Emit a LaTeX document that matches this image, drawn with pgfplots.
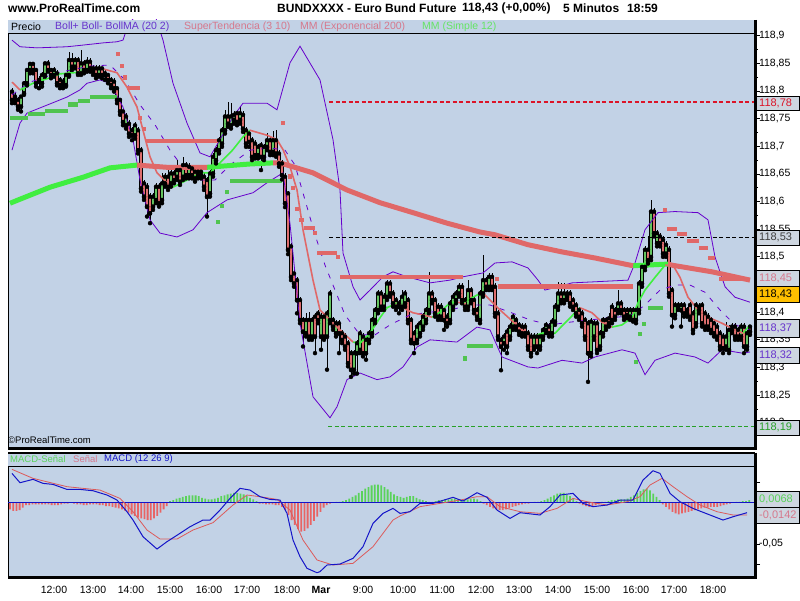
\documentclass[border=0pt]{standalone}
\usepackage{pgfplots}
\pgfplotsset{compat=1.18}
\usepackage{pgfplotstable}
\usepackage{fontspec}
\setmainfont{Liberation Sans}

\definecolor{bg}{RGB}{194,210,230}
\definecolor{cgreen}{RGB}{100,196,96}
\definecolor{cred}{RGB}{222,110,110}
\definecolor{boll}{RGB}{102,0,204}
\definecolor{salmon}{RGB}{224,104,104}
\definecolor{stgreen}{RGB}{80,196,80}
\definecolor{emagreen}{RGB}{64,238,64}
\definecolor{smagreen}{RGB}{64,240,64}
\definecolor{macdblue}{RGB}{20,20,200}
\definecolor{sigred}{RGB}{220,90,90}
\definecolor{hgreen}{RGB}{90,210,90}
\definecolor{hred}{RGB}{232,100,100}
\definecolor{boxfill}{RGB}{206,214,224}
\definecolor{orangebox}{RGB}{255,192,0}
\definecolor{legpink}{RGB}{214,120,140}
\definecolor{leggreen}{RGB}{100,228,100}
\definecolor{legpurple}{RGB}{102,51,204}
\definecolor{dashred}{RGB}{220,20,40}
\definecolor{dashgreen}{RGB}{40,160,40}

\newcommand{\pricebox}[5]{%
  \draw[black, line width=0.6pt, fill=#5] (756.5pt,{600pt-#1pt}) rectangle (799.5pt,{600pt-#2pt});
  \node[anchor=west, text=#4, font=\fontsize{11}{12}\selectfont, inner sep=0pt] at (759pt,{600pt-(#1pt+#2pt)/2}) {#3};}

\pgfplotstableread{
x o h l c
12 118.799 118.805 118.778 118.784
15 118.790 118.796 118.778 118.784
18 118.784 118.790 118.766 118.772
21 118.772 118.793 118.763 118.790
24 118.796 118.818 118.793 118.814
27 118.814 118.842 118.810 118.838
30 118.838 118.853 118.832 118.849
33 118.849 118.853 118.832 118.838
36 118.838 118.842 118.808 118.814
39 118.817 118.828 118.805 118.820
42 118.814 118.835 118.808 118.829
45 118.829 118.853 118.826 118.850
48 118.850 118.856 118.835 118.838
51 118.838 118.842 118.823 118.829
54 118.829 118.844 118.826 118.838
57 118.832 118.838 118.810 118.814
60 118.820 118.826 118.805 118.811
63 118.817 118.823 118.805 118.811
66 118.811 118.832 118.808 118.829
69 118.829 118.871 118.826 118.856
72 118.856 118.868 118.838 118.844
75 118.844 118.862 118.841 118.856
78 118.856 118.862 118.829 118.832
81 118.832 118.874 118.829 118.850
84 118.850 118.856 118.832 118.838
87 118.838 118.862 118.835 118.853
90 118.853 118.859 118.835 118.841
93 118.841 118.847 118.829 118.835
96 118.841 118.847 118.823 118.829
99 118.829 118.847 118.826 118.841
102 118.841 118.844 118.823 118.829
105 118.832 118.838 118.820 118.829
108 118.829 118.832 118.814 118.820
111 118.820 118.826 118.805 118.811
114 118.817 118.823 118.799 118.805
117 118.805 118.808 118.778 118.784
120 118.784 118.787 118.757 118.763
123 118.763 118.766 118.738 118.744
126 118.738 118.760 118.732 118.754
129 118.741 118.747 118.717 118.723
132 118.729 118.735 118.711 118.720
135 118.720 118.744 118.714 118.738
138 118.729 118.735 118.687 118.693
141 118.693 118.699 118.618 118.624
144 118.633 118.639 118.603 118.609
147 118.627 118.633 118.573 118.591
150 118.609 118.615 118.561 118.579
153 118.591 118.615 118.585 118.609
156 118.603 118.633 118.597 118.627
159 118.627 118.633 118.591 118.597
162 118.603 118.651 118.597 118.633
165 118.633 118.651 118.627 118.645
168 118.645 118.657 118.621 118.627
171 118.633 118.657 118.627 118.651
174 118.651 118.657 118.633 118.639
177 118.645 118.675 118.639 118.657
180 118.657 118.663 118.630 118.636
183 118.645 118.681 118.639 118.666
186 118.666 118.672 118.642 118.648
189 118.648 118.669 118.642 118.663
192 118.660 118.666 118.642 118.648
195 118.654 118.660 118.636 118.642
198 118.648 118.660 118.642 118.654
201 118.654 118.660 118.642 118.648
204 118.645 118.651 118.621 118.627
207 118.639 118.645 118.573 118.609
210 118.615 118.657 118.609 118.651
213 118.651 118.687 118.645 118.681
216 118.675 118.699 118.669 118.693
219 118.693 118.717 118.687 118.711
222 118.705 118.735 118.699 118.729
225 118.729 118.766 118.723 118.754
228 118.754 118.781 118.735 118.741
231 118.738 118.778 118.732 118.754
234 118.748 118.763 118.741 118.757
237 118.760 118.766 118.738 118.744
240 118.748 118.772 118.741 118.760
243 118.757 118.763 118.726 118.732
246 118.729 118.735 118.699 118.705
249 118.723 118.729 118.699 118.708
252 118.711 118.717 118.675 118.681
255 118.705 118.711 118.678 118.684
258 118.684 118.705 118.678 118.699
261 118.702 118.708 118.657 118.681
264 118.681 118.705 118.675 118.699
267 118.699 118.724 118.693 118.711
270 118.711 118.717 118.684 118.690
273 118.690 118.727 118.684 118.711
276 118.711 118.730 118.681 118.687
279 118.687 118.693 118.663 118.669
282 118.669 118.675 118.640 118.648
285 118.645 118.651 118.590 118.597
288 118.615 118.620 118.505 118.513
291 118.519 118.525 118.458 118.464
294 118.470 118.476 118.446 118.452
297 118.458 118.464 118.398 118.422
300 118.422 118.428 118.380 118.386
303 118.386 118.392 118.338 118.365
306 118.362 118.398 118.356 118.386
309 118.386 118.401 118.350 118.356
312 118.356 118.392 118.350 118.386
315 118.392 118.398 118.326 118.356
318 118.398 118.404 118.380 118.386
321 118.356 118.398 118.332 118.392
324 118.392 118.398 118.350 118.356
327 118.356 118.404 118.296 118.398
330 118.386 118.440 118.380 118.434
333 118.386 118.392 118.368 118.374
336 118.362 118.386 118.356 118.380
339 118.380 118.386 118.326 118.362
342 118.362 118.368 118.344 118.350
345 118.356 118.362 118.332 118.338
348 118.344 118.350 118.302 118.308
351 118.326 118.332 118.283 118.296
354 118.296 118.332 118.289 118.326
357 118.326 118.350 118.289 118.344
360 118.332 118.368 118.326 118.362
363 118.356 118.362 118.320 118.326
366 118.326 118.356 118.314 118.350
369 118.350 118.368 118.344 118.362
372 118.362 118.392 118.356 118.386
375 118.386 118.410 118.380 118.404
378 118.404 118.440 118.398 118.434
381 118.434 118.440 118.404 118.410
384 118.410 118.434 118.404 118.428
387 118.428 118.458 118.422 118.452
390 118.452 118.458 118.428 118.434
393 118.434 118.440 118.410 118.416
396 118.422 118.428 118.404 118.410
399 118.410 118.422 118.398 118.416
402 118.410 118.440 118.404 118.428
405 118.416 118.440 118.410 118.434
408 118.422 118.428 118.380 118.386
411 118.386 118.392 118.344 118.350
414 118.362 118.368 118.326 118.344
417 118.350 118.380 118.344 118.374
420 118.362 118.386 118.356 118.380
423 118.374 118.398 118.368 118.392
426 118.386 118.410 118.380 118.404
429 118.404 118.473 118.398 118.434
432 118.434 118.440 118.416 118.422
435 118.422 118.428 118.392 118.398
438 118.410 118.416 118.386 118.392
441 118.392 118.416 118.386 118.410
444 118.404 118.410 118.368 118.386
447 118.392 118.398 118.374 118.380
450 118.386 118.422 118.380 118.416
453 118.410 118.434 118.404 118.428
456 118.422 118.440 118.416 118.434
459 118.434 118.452 118.428 118.446
462 118.446 118.452 118.416 118.422
465 118.422 118.428 118.404 118.410
468 118.410 118.458 118.404 118.440
471 118.440 118.446 118.416 118.422
474 118.422 118.428 118.398 118.404
477 118.404 118.410 118.386 118.392
480 118.386 118.440 118.380 118.434
483 118.434 118.503 118.428 118.458
486 118.458 118.464 118.440 118.446
489 118.446 118.470 118.440 118.464
492 118.464 118.470 118.440 118.446
495 118.446 118.452 118.392 118.398
498 118.398 118.404 118.350 118.356
501 118.350 118.356 118.295 118.338
504 118.344 118.362 118.332 118.356
507 118.365 118.371 118.326 118.338
510 118.356 118.380 118.350 118.374
513 118.374 118.398 118.368 118.392
516 118.386 118.392 118.368 118.374
519 118.377 118.383 118.359 118.365
522 118.374 118.380 118.356 118.362
525 118.374 118.380 118.356 118.362
528 118.362 118.368 118.332 118.338
531 118.356 118.362 118.320 118.326
534 118.338 118.362 118.332 118.356
537 118.356 118.362 118.326 118.338
540 118.338 118.362 118.332 118.356
543 118.356 118.374 118.350 118.368
546 118.368 118.383 118.362 118.377
549 118.374 118.380 118.356 118.362
552 118.362 118.389 118.356 118.383
555 118.383 118.416 118.377 118.410
558 118.410 118.455 118.404 118.434
561 118.434 118.452 118.416 118.422
564 118.422 118.452 118.416 118.434
567 118.434 118.440 118.422 118.428
570 118.434 118.440 118.410 118.416
573 118.422 118.428 118.404 118.410
576 118.413 118.419 118.392 118.398
579 118.404 118.410 118.386 118.392
582 118.398 118.404 118.374 118.380
585 118.386 118.392 118.350 118.356
588 118.380 118.386 118.274 118.326
591 118.326 118.389 118.320 118.383
594 118.356 118.386 118.350 118.380
597 118.380 118.386 118.326 118.332
600 118.338 118.368 118.332 118.362
603 118.362 118.392 118.356 118.386
606 118.386 118.392 118.368 118.374
609 118.389 118.398 118.374 118.380
612 118.410 118.416 118.380 118.386
615 118.404 118.410 118.386 118.392
618 118.404 118.440 118.398 118.416
621 118.416 118.422 118.398 118.404
624 118.404 118.410 118.386 118.392
627 118.404 118.410 118.389 118.395
630 118.392 118.410 118.386 118.404
633 118.404 118.410 118.383 118.386
636 118.386 118.410 118.380 118.404
639 118.404 118.458 118.398 118.452
642 118.452 118.488 118.446 118.482
645 118.482 118.519 118.476 118.513
648 118.513 118.537 118.488 118.494
651 118.500 118.603 118.494 118.582
654 118.582 118.588 118.537 118.543
657 118.525 118.549 118.519 118.543
660 118.537 118.543 118.519 118.525
663 118.531 118.537 118.500 118.506
666 118.506 118.528 118.500 118.522
669 118.513 118.519 118.428 118.434
672 118.440 118.446 118.374 118.395
675 118.395 118.419 118.389 118.413
678 118.413 118.419 118.404 118.410
681 118.404 118.419 118.374 118.413
684 118.413 118.419 118.392 118.398
687 118.404 118.410 118.392 118.398
690 118.413 118.419 118.386 118.392
693 118.398 118.404 118.362 118.368
696 118.380 118.419 118.374 118.413
699 118.404 118.416 118.398 118.410
702 118.413 118.419 118.374 118.380
705 118.398 118.404 118.368 118.374
708 118.392 118.398 118.368 118.374
711 118.386 118.392 118.362 118.368
714 118.380 118.386 118.356 118.362
717 118.374 118.380 118.350 118.356
720 118.362 118.368 118.332 118.338
723 118.356 118.362 118.326 118.335
726 118.338 118.383 118.332 118.356
729 118.332 118.377 118.326 118.368
732 118.368 118.380 118.362 118.374
735 118.374 118.380 118.350 118.356
738 118.368 118.374 118.350 118.356
741 118.356 118.380 118.350 118.374
744 118.374 118.380 118.326 118.338
747 118.338 118.368 118.332 118.362
750 118.374 118.377 118.359 118.365
}\candles

\pgfplotstableread{
v
-0.008
-0.010
-0.010
-0.009
-0.006
-0.003
-0.003
-0.002
-0.002
-0.002
-0.002
-0.002
-0.002
-0.003
-0.003
-0.003
-0.002
-0.001
-0.001
0
-0.001
-0.002
-0.002
-0.003
-0.003
-0.002
-0.002
-0.002
-0.003
-0.003
-0.004
-0.004
-0.005
-0.006
-0.007
-0.008
-0.010
-0.012
-0.014
-0.016
-0.018
-0.019
-0.020
-0.021
-0.021
-0.019
-0.016
-0.012
-0.008
-0.004
0.002
0.003
0.005
0.006
0.007
0.008
0.009
0.009
0.009
0.008
0.006
0.005
0.004
0.004
0.005
0.006
0.008
0.009
0.010
0.011
0.012
0.012
0.011
0.010
0.008
0.006
0.004
0.002
-0.001
-0.001
-0.002
-0.002
-0.002
-0.003
-0.003
-0.005
-0.009
-0.015
-0.021
-0.027
-0.032
-0.035
-0.034
-0.031
-0.027
-0.022
-0.017
-0.011
-0.006
-0.003
-0.001
0
0.001
0.001
0.002
0.003
0.005
0.007
0.009
0.012
0.014
0.017
0.019
0.021
0.022
0.022
0.021
0.019
0.016
0.013
0.010
0.008
0.007
0.006
0.007
0.008
0.008
0.006
0.004
0.003
0.002
0.001
0.001
0.002
0.003
0.003
0.004
0.004
0.005
0.005
0.004
0.003
0.003
0.004
0.005
0.005
0.004
0.002
-0.001
-0.003
-0.005
-0.007
-0.008
-0.009
-0.009
-0.008
-0.007
-0.005
-0.004
-0.003
-0.002
-0.001
-0.001
0
0.001
0.001
0.002
0.003
0.005
0.007
0.009
0.011
0.012
0.012
0.010
0.008
0.005
0.002
-0.001
-0.003
-0.004
-0.005
-0.004
-0.003
-0.002
0.001
0.001
0.002
0.003
0.003
0.004
0.004
0.004
0.005
0.007
0.009
0.012
0.014
0.016
0.017
0.015
0.011
0.007
0.003
-0.002
-0.005
-0.008
-0.011
-0.013
-0.014
-0.013
-0.012
-0.011
-0.010
-0.009
-0.008
-0.007
-0.006
-0.006
-0.005
-0.005
-0.005
-0.004
-0.003
-0.002
-0.001
0
0.001
0.001
0.002
0.002
0.003
}\hist

\begin{document}
\begin{tikzpicture}
\path[use as bounding box, fill=white] (0,0) rectangle (800pt,600pt);

% ---------------- main price panel ----------------
\begin{axis}[
  at={(8pt,152pt)}, anchor=south west, scale only axis,
  width=747pt, height=428pt,
  xmin=8, xmax=755, ymin=118.1544, ymax=118.9284,
  axis background/.style={fill=bg},
  axis line style={line width=0.8pt},
  xtick=\empty,
  ytick pos=right, yticklabel pos=right,
  ytick={118.2,118.25,118.3,118.35,118.4,118.45,118.5,118.55,118.6,118.65,118.7,118.75,118.8,118.85,118.9},
  minor y tick num=1,
  tick align=outside, major tick length=5pt, minor tick length=3pt,
  tick style={black, line width=0.8pt},
  yticklabel style={font=\fontsize{10.5}{12}\selectfont, xshift=-4.5pt},
  scaled y ticks=false,
  /pgf/number format/fixed, /pgf/number format/precision=2,
  /pgf/number format/use comma, /pgf/number format/assume math mode=true,
  unbounded coords=jump,
]
% wicks
\addplot[only marks, mark=none, error bars/.cd, y dir=plus, y explicit, error mark=none,
  error bar style={black, line width=0.7pt}]
  table[x=x, y=l, y error expr={\thisrow{h}-\thisrow{l}}] {\candles};
% body outline
\addplot[only marks, mark=none, error bars/.cd, y dir=plus, y explicit, error mark=none,
  error bar style={black, line width=3.2pt}]
  table[x=x, y expr={min(\thisrow{o},\thisrow{c})-0.0008}, y error expr={abs(\thisrow{c}-\thisrow{o})+0.0016}] {\candles};
% green bodies
\addplot[only marks, mark=none, error bars/.cd, y dir=plus, y explicit, error mark=none,
  error bar style={cgreen, line width=1.9pt}]
  table[x=x, y=o, y error expr={max(\thisrow{c}-\thisrow{o},0)}] {\candles};
% red bodies
\addplot[only marks, mark=none, error bars/.cd, y dir=plus, y explicit, error mark=none,
  error bar style={cred, line width=1.9pt}]
  table[x=x, y=c, y error expr={max(\thisrow{o}-\thisrow{c},0)}] {\candles};

% Bollinger
\addplot[boll, line width=0.8pt] coordinates {(12,118.892)(20,118.880)(37,118.878)(67,118.880)(83,118.883)(103,118.887)(117,118.889)(123,118.892)(128,118.919)(140,118.946)(155,118.937)(163,118.892)(173,118.814)(187,118.742)(200,118.688)(210,118.681)(233,118.753)(243,118.778)(267,118.778)(277,118.766)(290,118.851)(300,118.881)(320,118.820)(333,118.712)(340,118.621)(343,118.507)(353,118.446)(360,118.422)(370,118.440)(383,118.464)(393,118.473)(407,118.464)(430,118.453)(450,118.458)(463,118.464)(483,118.471)(495,118.489)(512,118.491)(528,118.480)(538,118.458)(545,118.440)(558,118.446)(572,118.453)(595,118.455)(628,118.458)(635,118.489)(645,118.549)(658,118.580)(675,118.582)(698,118.580)(708,118.567)(715,118.500)(725,118.446)(735,118.427)(750,118.418)};
\addplot[boll, line width=0.8pt] coordinates {(12,118.693)(20,118.742)(27,118.760)(67,118.789)(80,118.802)(87,118.814)(100,118.820)(110,118.814)(123,118.771)(133,118.712)(140,118.639)(150,118.567)(160,118.543)(177,118.536)(193,118.549)(207,118.580)(227,118.603)(253,118.616)(267,118.634)(283,118.652)(290,118.560)(300,118.380)(313,118.247)(330,118.209)(337,118.229)(347,118.278)(360,118.290)(377,118.278)(390,118.283)(403,118.301)(417,118.337)(430,118.350)(457,118.346)(477,118.373)(490,118.368)(502,118.319)(528,118.301)(538,118.299)(562,118.313)(582,118.308)(595,118.319)(622,118.332)(635,118.326)(645,118.287)(655,118.313)(675,118.326)(695,118.319)(708,118.308)(722,118.332)(742,118.326)(750,118.328)};
\addplot[boll, line width=0.8pt, dash pattern=on 5pt off 7pt] coordinates {(12,118.793)(30,118.816)(60,118.834)(90,118.845)(110,118.847)(125,118.820)(140,118.775)(155,118.739)(170,118.693)(185,118.657)(200,118.639)(215,118.639)(230,118.666)(250,118.693)(270,118.697)(285,118.693)(295,118.666)(305,118.603)(315,118.540)(325,118.485)(335,118.440)(345,118.395)(360,118.359)(375,118.359)(390,118.377)(410,118.395)(430,118.400)(450,118.404)(470,118.413)(490,118.413)(510,118.400)(530,118.386)(550,118.377)(570,118.382)(590,118.386)(610,118.390)(630,118.393)(645,118.413)(660,118.440)(675,118.449)(690,118.449)(705,118.436)(720,118.404)(735,118.377)(750,118.368)};

% EMA 200
\addplot[emagreen, line width=5pt] coordinates {(10,118.597)(50,118.626)(83,118.644)(110,118.661)(137,118.666)(137,nan)(207,118.662)(250,118.668)(273,118.670)(273,nan)(633,118.484)(668,118.487)};
\addplot[salmon, line width=5pt] coordinates {(137,118.666)(167,118.662)(207,118.662)(207,nan)(273,118.670)(280,118.670)(313,118.652)(347,118.621)(380,118.598)(413,118.580)(447,118.561)(480,118.545)(495,118.540)(528,118.522)(562,118.509)(595,118.498)(633,118.484)(633,nan)(668,118.487)(672,118.485)(712,118.473)(750,118.458)};

% SMA 12
\addplot[smagreen, line width=1.6pt] coordinates {(20,118.802)(33,118.814)(50,118.824)(60,118.831)(80,118.834)(97,118.840)(97,nan)(173,118.626)(187,118.639)(200,118.652)(210,118.652)(220,118.670)(233,118.694)(243,118.717)(250,118.729)(250,nan)(353,118.346)(360,118.344)(370,118.362)(380,118.390)(387,118.408)(397,118.417)(397,nan)(432,118.391)(440,118.400)(450,118.417)(457,118.418)(457,nan)(463,118.417)(477,118.431)(483,118.435)(483,nan)(532,118.355)(542,118.362)(555,118.362)(568,118.386)(580,118.408)(580,nan)(612,118.373)(622,118.377)(632,118.390)(638,118.417)(645,118.440)(655,118.463)(665,118.485)(665,nan)(743,118.362)(750,118.377)};
\addplot[salmon, line width=1.6pt] coordinates {(12,118.816)(20,118.802)(20,nan)(97,118.840)(103,118.840)(117,118.833)(127,118.807)(137,118.771)(143,118.729)(150,118.681)(157,118.652)(167,118.634)(173,118.626)(173,nan)(250,118.729)(267,118.720)(277,118.712)(283,118.694)(290,118.663)(297,118.621)(303,118.549)(313,118.458)(320,118.404)(330,118.386)(340,118.368)(353,118.346)(353,nan)(397,118.417)(407,118.404)(413,118.399)(423,118.395)(432,118.391)(432,nan)(457,118.418)(463,118.417)(463,nan)(483,118.435)(490,118.422)(500,118.404)(508,118.391)(522,118.368)(532,118.355)(532,nan)(580,118.408)(592,118.399)(602,118.382)(612,118.373)(612,nan)(665,118.485)(673,118.485)(680,118.463)(688,118.427)(698,118.404)(708,118.391)(722,118.380)(735,118.368)(743,118.362)};

% SuperTendencia
\addplot[salmon, line width=4.5pt] coordinates {(116,118.867)(120,118.867)(120,nan)(120,118.845)(124,118.845)(124,nan)(123,118.824)(127,118.824)(127,nan)(127,118.805)(140,118.805)(140,nan)(138,118.751)(142,118.751)(142,nan)(142,118.731)(146,118.731)(146,nan)(146,118.710)(218,118.710)(218,nan)(281,118.742)(285,118.742)(285,nan)(288,118.645)(292,118.645)(292,nan)(291,118.625)(295,118.625)(295,nan)(295,118.587)(299,118.587)(299,nan)(299,118.567)(304,118.567)(304,nan)(304,118.552)(315,118.552)(315,nan)(313,118.543)(317,118.543)(317,nan)(317,118.507)(337,118.507)(337,nan)(336,118.500)(340,118.500)(340,nan)(340,118.464)(463,118.464)(463,nan)(495,118.460)(499,118.460)(499,nan)(498,118.446)(633,118.446)(633,nan)(663,118.585)(667,118.585)(667,nan)(667,118.550)(677,118.550)(677,nan)(677,118.541)(687,118.541)(687,nan)(687,118.529)(699,118.529)(699,nan)(699,118.516)(708,118.516)(708,nan)(708,118.498)(715,118.498)(715,nan)(719,118.460)(748,118.460)};
\addplot[stgreen, line width=4.5pt] coordinates {(10,118.751)(28,118.751)(28,nan)(28,118.758)(45,118.758)(45,nan)(45,118.764)(68,118.764)(68,nan)(68,118.776)(78,118.776)(78,nan)(78,118.782)(90,118.782)(90,nan)(90,118.789)(117,118.789)(117,nan)(216,118.563)(220,118.563)(220,nan)(220,118.592)(224,118.592)(224,nan)(225,118.617)(229,118.617)(229,nan)(230,118.637)(282,118.637)(282,nan)(463,118.316)(467,118.316)(467,nan)(467,118.339)(493,118.339)(493,nan)(634,118.310)(638,118.310)(638,nan)(638,118.361)(642,118.361)(642,nan)(642,118.379)(646,118.379)(646,nan)(648,118.408)(663,118.408)};

% horizontal levels
\addplot[dashred, line width=1.6pt, dash pattern=on 4pt off 2.5pt] coordinates {(329,118.78)(755,118.78)};
\addplot[black, line width=1.6pt, dash pattern=on 4pt off 2.5pt] coordinates {(329,118.535)(755,118.535)};
\addplot[dashgreen, line width=1.6pt, dash pattern=on 4pt off 2.5pt] coordinates {(328,118.193)(755,118.193)};
\end{axis}

% ---------------- MACD panel ----------------
\begin{axis}[
  at={(8pt,23pt)}, anchor=south west, scale only axis,
  width=747pt, height=124pt,
  xmin=8, xmax=755, ymin=-0.0900, ymax=0.0602,
  axis background/.style={fill=bg},
  axis line style={line width=0.8pt},
  ytick pos=right, yticklabel pos=right,
  ytick={-0.075,-0.05,-0.025,0.025},
  yticklabels={,{-0,05},,},
  scaled y ticks=false,
  tick align=outside, major tick length=5pt,
  tick style={black, line width=0.8pt},
  yticklabel style={font=\fontsize{10.5}{12}\selectfont, xshift=-4.5pt},
  xtick pos=bottom,
  xtick={54,93,131,170,209,247,287,321,363,403,442,481,519,558,597,636,674,713},
  xticklabels={12:00,13:00,14:00,15:00,16:00,17:00,18:00,\textbf{Mar},9:00,10:00,11:00,12:00,13:00,14:00,15:00,16:00,17:00,18:00},
  major x tick style={draw=none},
  xticklabel style={font=\fontsize{10.5}{12}\selectfont, yshift=-1pt},
  unbounded coords=jump,
]
\addplot[ybar, bar width=1.8pt, bar shift=0pt, fill=hgreen, draw=none, restrict y to domain=0:1]
  table[x expr=10+3.2*\coordindex, y=v] {\hist};
\addplot[ybar, bar width=1.8pt, bar shift=0pt, fill=hred, draw=none, restrict y to domain=-1:0]
  table[x expr=10+3.2*\coordindex, y=v] {\hist};
\addplot[macdblue, line width=1pt] coordinates {(8,0)(755,0)};
\addplot[sigred, line width=0.8pt] coordinates {(12,0.0404)(33,0.0295)(67,0.0194)(100,0.0153)(120,0.0052)(133,-0.0109)(147,-0.0331)(160,-0.044)(177,-0.044)(193,-0.0331)(213,-0.0242)(233,-0.0028)(247,0.0093)(260,0.0073)(277,0.004)(290,-0.0089)(303,-0.0452)(317,-0.0694)(333,-0.0755)(353,-0.0735)(373,-0.0533)(393,-0.021)(400,-0.0161)(420,-0.0048)(440,-0.0008)(460,0.0032)(477,0.0073)(487,0.0073)(500,-0.0048)(520,-0.0109)(540,-0.0129)(557,-0.0069)(573,0.0052)(587,0.0012)(607,-0.0028)(627,0.0012)(640,0.0073)(650,0.0214)(662,0.0295)(673,0.0194)(687,0.0073)(700,-0.0028)(717,-0.0109)(733,-0.0149)(747,-0.0149)};
\addplot[macdblue, line width=1pt] coordinates {(12,0.0355)(20,0.0242)(33,0.0283)(43,0.0234)(53,0.0222)(67,0.0161)(80,0.0161)(93,0.0145)(107,0.0093)(117,0.0032)(127,-0.0109)(133,-0.021)(143,-0.0412)(157,-0.0561)(167,-0.0472)(180,-0.0371)(190,-0.0291)(203,-0.021)(210,-0.021)(220,-0.0089)(230,0.0052)(240,0.0174)(250,0.0153)(260,0.0073)(270,0.004)(280,0.0032)(287,-0.0129)(293,-0.0452)(300,-0.0654)(307,-0.0795)(317,-0.0848)(320,-0.0835)(327,-0.0755)(340,-0.0743)(353,-0.0674)(363,-0.0533)(373,-0.025)(383,-0.0129)(393,-0.0069)(400,-0.0129)(410,-0.0109)(420,-0.0008)(433,-0.0008)(453,0.0065)(463,0.002)(477,0.0121)(487,0.0065)(497,-0.0089)(510,-0.019)(520,-0.0121)(540,-0.0149)(550,-0.0048)(560,0.0093)(573,0.0113)(583,-0.0008)(593,-0.0048)(607,-0.0028)(620,0.0032)(633,0.0032)(643,0.0274)(653,0.0387)(660,0.0355)(670,0.0113)(680,0.0012)(693,-0.0069)(710,-0.0149)(723,-0.021)(733,-0.017)(747,-0.0121)};
\end{axis}

% legend strips
\fill[bg] (8.4pt,567pt) rectangle (754.6pt,579.6pt);
\draw[black, line width=0.8pt] (8pt,567pt) -- (755pt,567pt);
\fill[bg] (8.4pt,134pt) rectangle (754.6pt,146.6pt);
\draw[black, line width=0.8pt] (8pt,134pt) -- (755pt,134pt);
\begin{scope}[every node/.style={anchor=west, inner sep=0pt, font=\fontsize{10.5}{11}\selectfont}]
\node[text=black] at (11pt,573pt) {Precio};
\node[text=legpurple] at (55pt,573pt) {Boll+ Boll- BollMA (20 2)};
\node[text=legpink] at (184pt,573pt) {SuperTendencia (3 10)};
\node[text=legpink] at (300pt,573pt) {MM (Exponencial 200)};
\node[text=leggreen] at (422pt,573pt) {MM (Simple 12)};
\end{scope}
\begin{scope}[every node/.style={anchor=west, inner sep=0pt, font=\fontsize{9.5}{11}\selectfont}]
\node[text=hgreen] at (10pt,140.5pt) {MACD-Señal};
\node[text=legpink] at (73pt,140.5pt) {Señal};
\node[text=macdblue] at (104pt,140.5pt) {MACD (12 26 9)};
\node[text=black] at (8pt,160pt) {©ProRealTime.com};
\end{scope}

% thick frame sides
\draw[black, line width=2.5pt] (755.5pt,580pt) -- (755.5pt,151pt);
\draw[black, line width=2.5pt] (8pt,151.5pt) -- (756.7pt,151.5pt);
\draw[black, line width=2.5pt] (755.5pt,147.5pt) -- (755.5pt,22pt);
\draw[black, line width=2.5pt] (8pt,22.5pt) -- (756.7pt,22.5pt);
\draw[black, line width=1.6pt] (8pt,147pt) -- (755pt,147pt);

% titles
\begin{scope}[every node/.style={anchor=west, inner sep=0pt, font=\bfseries\fontsize{12}{14}\selectfont}]
\node at (8pt,591.5pt) {www.ProRealTime.com};
\node at (277pt,591.5pt) {BUNDXXXX - Euro Bund Future};
\node at (462pt,591.5pt) {118,43 (+0,00\%)};
\node at (563pt,591.5pt) {5 Minutos};
\node at (627pt,591.5pt) {18:59};
\end{scope}

% value boxes
\pricebox{96}{110}{118,78}{dashred}{boxfill}
\pricebox{230}{245}{118,53}{black!75}{boxfill}
\pricebox{270}{286}{118,45}{legpink}{boxfill}
\pricebox{286}{302}{118,43}{black}{orangebox}
\pricebox{319}{337}{118,37}{legpurple}{boxfill}
\pricebox{347}{363}{118,32}{legpurple}{boxfill}
\pricebox{420}{435}{118,19}{dashgreen}{boxfill}
\pricebox{491}{507}{0,0068}{hgreen}{boxfill}
\pricebox{507}{523}{-0,0142}{legpink}{boxfill}
\end{tikzpicture}
\end{document}
